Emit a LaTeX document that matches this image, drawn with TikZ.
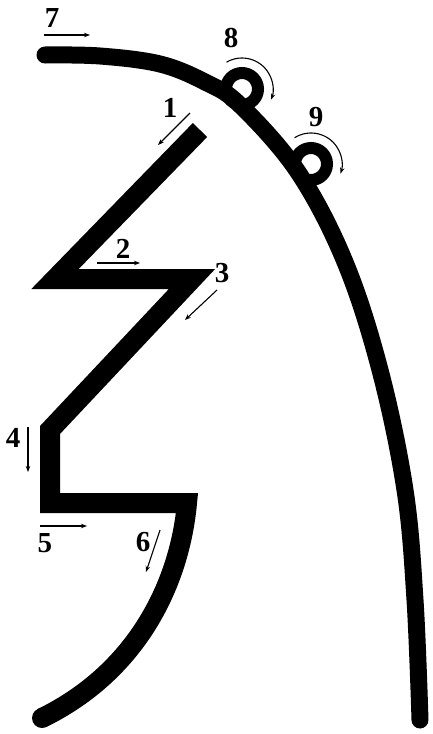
\documentclass[tikz,border=0pt]{standalone}
\usepackage{fontspec}
\setmainfont{Liberation Serif}
\usetikzlibrary{arrows.meta}
\tikzset{
  wall/.style={line width=17pt, line cap=round, line join=round},
  fin/.style={line width=20pt, line join=miter, miter limit=4},
  ring/.style={line width=12pt},
  flow/.style={line width=1.1pt, -{Stealth[length=6pt,width=4.5pt]}},
  lab/.style={font=\fontsize{29}{29}\selectfont\bfseries, inner sep=0pt}
}
\begin{document}
\begin{tikzpicture}[x=1pt,y=-1pt]
\useasboundingbox (0,0) rectangle (432,734);
% loops on outer wall
\coordinate (c8) at (242,89);
\coordinate (c9) at (311,164);
\draw[ring] (c8) circle[radius=16];
\draw[ring] (c9) circle[radius=16];
% outer wall
\draw[wall] plot[smooth, tension=0.6] coordinates {(45,55) (100,56) (160,64) (205,82) (240,105) (298,172) (345,262) (380,370) (405,490) (415,600) (420,720)};
% inner zig-zag fin
\draw[fin, line cap=butt] (200,130) -- (55,279) -- (192,279) -- (50,430) -- (50,503) -- (187,503)
  .. controls (180,580) and (140,670) .. (42,718);
\fill (42,718) circle[radius=10];
% labels
\node[lab] (l7) at (52,18) {7};
\node[lab] (l8) at (231,38) {8};
\node[lab] (l9) at (316,117) {9};
\node[lab] (l1) at (170,108) {1};
\node[lab] (l2) at (123,249) {2};
\node[lab] (l3) at (222,273) {3};
\node[lab] (l4) at (13,438) {4};
\node[lab] (l5) at (45,543) {5};
\node[lab] (l6) at (143,542) {6};
% flow arrows
\coordinate (a7s) at (44,35); \coordinate (a7e) at (90,35);
\coordinate (a1s) at (190,113); \coordinate (a1e) at (158,145);
\coordinate (a2s) at (97,263); \coordinate (a2e) at (140,263);
\coordinate (a3s) at (217,290); \coordinate (a3e) at (185,320);
\coordinate (a4s) at (28,427); \coordinate (a4e) at (28,472);
\coordinate (a5s) at (40,526); \coordinate (a5e) at (87,526);
\coordinate (a6s) at (160,530); \coordinate (a6e) at (146,572);
\draw[flow] (a7s) -- (a7e);
\draw[flow] (a1s) -- (a1e);
\draw[flow] (a2s) -- (a2e);
\draw[flow] (a3s) -- (a3e);
\draw[flow] (a4s) -- (a4e);
\draw[flow] (a5s) -- (a5e);
\draw[flow] (a6s) -- (a6e);
% curved arrows around loops (y axis points down, so angles are mirrored)
\draw[flow] ([shift={(-120:31)}]c8) arc[start angle=-120, end angle=20, radius=31];
\draw[flow] ([shift={(-122:31)}]c9) arc[start angle=-122, end angle=18, radius=31];
\end{tikzpicture}
\end{document}
